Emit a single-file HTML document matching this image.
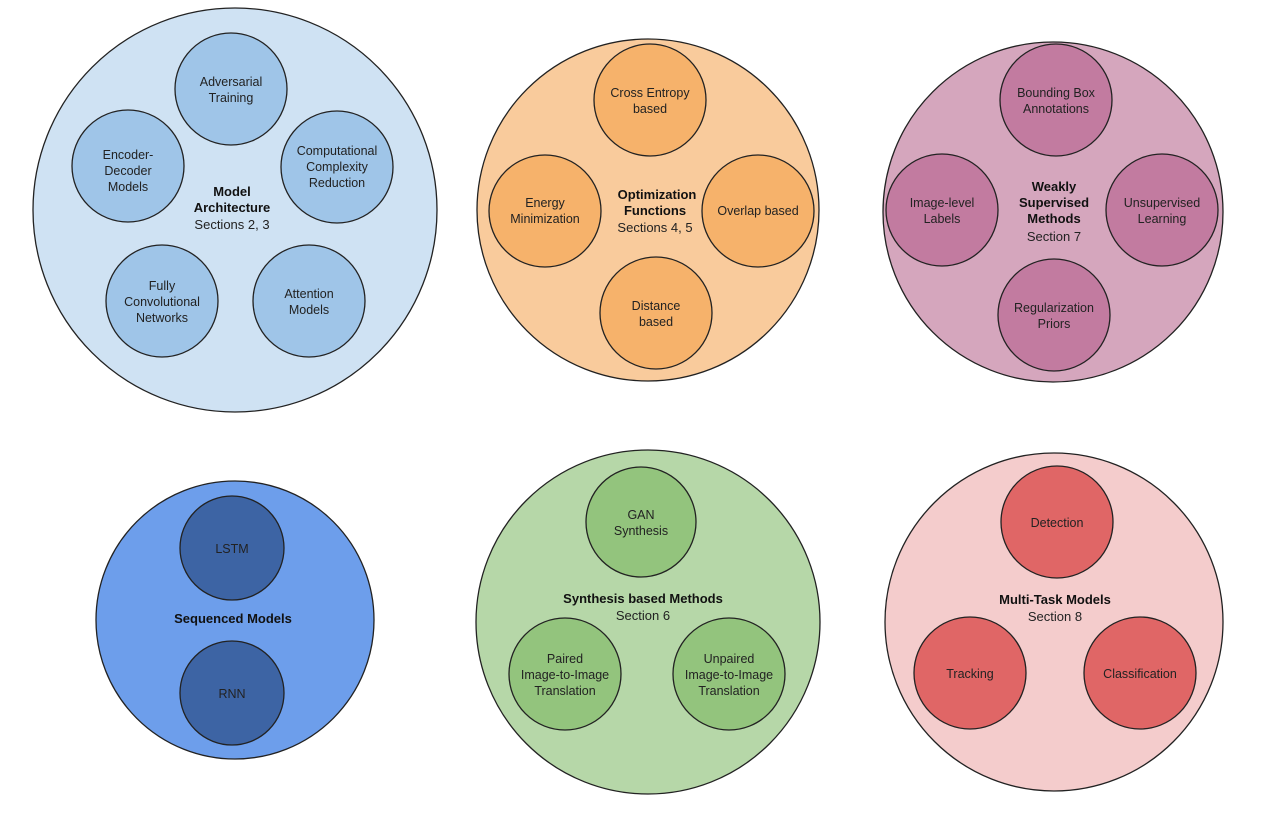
<!DOCTYPE html>
<html><head><meta charset="utf-8"><style>
html,body{margin:0;padding:0;background:#fff;}
svg{display:block;}
text{font-family:"Liberation Sans",Arial,sans-serif;font-size:12.5px;fill:#222;text-anchor:middle;}
.b{font-weight:bold;font-size:13px;fill:#111;}
</style></head><body>
<svg width="1266" height="816" viewBox="0 0 1266 816" xmlns="http://www.w3.org/2000/svg">
<g stroke="#222" stroke-width="1.3">
<circle cx="235" cy="210" r="202" fill="#cfe2f3"/>
<circle cx="648" cy="210" r="171" fill="#f9cb9c"/>
<circle cx="1053" cy="212" r="170" fill="#d5a6bd"/>
<circle cx="235" cy="620" r="139" fill="#6d9eeb"/>
<circle cx="648" cy="622" r="172" fill="#b6d7a8"/>
<circle cx="1054" cy="622" r="169" fill="#f4cccc"/>

<g fill="#9fc5e8">
<circle cx="231" cy="89" r="56"/><circle cx="128" cy="166" r="56"/><circle cx="337" cy="167" r="56"/>
<circle cx="162" cy="301" r="56"/><circle cx="309" cy="301" r="56"/>
</g>
<g fill="#f6b26b">
<circle cx="650" cy="100" r="56"/><circle cx="545" cy="211" r="56"/><circle cx="758" cy="211" r="56"/><circle cx="656" cy="313" r="56"/>
</g>
<g fill="#c27ba0">
<circle cx="1056" cy="100" r="56"/><circle cx="942" cy="210" r="56"/><circle cx="1162" cy="210" r="56"/><circle cx="1054" cy="315" r="56"/>
</g>
<g fill="#3d64a4">
<circle cx="232" cy="548" r="52"/><circle cx="232" cy="693" r="52"/>
</g>
<g fill="#93c47d">
<circle cx="641" cy="522" r="55"/><circle cx="565" cy="674" r="56"/><circle cx="729" cy="674" r="56"/>
</g>
<g fill="#e06666">
<circle cx="1057" cy="522" r="56"/><circle cx="970" cy="673" r="56"/><circle cx="1140" cy="673" r="56"/>
</g>
</g>

<text x="231" y="86">Adversarial</text><text x="231" y="102">Training</text>
<text x="128" y="159">Encoder-</text><text x="128" y="175">Decoder</text><text x="128" y="191">Models</text>
<text x="337" y="155">Computational</text><text x="337" y="171">Complexity</text><text x="337" y="187">Reduction</text>
<text x="162" y="290">Fully</text><text x="162" y="306">Convolutional</text><text x="162" y="322">Networks</text>
<text x="309" y="298">Attention</text><text x="309" y="314">Models</text>
<text class="b" x="232" y="196">Model</text><text class="b" x="232" y="212">Architecture</text><text x="232" y="229" style="font-size:13px">Sections 2, 3</text>

<text x="650" y="97">Cross Entropy</text><text x="650" y="113">based</text>
<text x="545" y="207">Energy</text><text x="545" y="223">Minimization</text>
<text x="758" y="215">Overlap based</text>
<text x="656" y="310">Distance</text><text x="656" y="326">based</text>
<text class="b" x="657" y="199">Optimization</text><text class="b" x="655" y="215">Functions</text><text x="655" y="232" style="font-size:13px">Sections 4, 5</text>

<text x="1056" y="97">Bounding Box</text><text x="1056" y="113">Annotations</text>
<text x="942" y="207">Image-level</text><text x="942" y="223">Labels</text>
<text x="1162" y="207">Unsupervised</text><text x="1162" y="223">Learning</text>
<text x="1054" y="312">Regularization</text><text x="1054" y="328">Priors</text>
<text class="b" x="1054" y="191">Weakly</text><text class="b" x="1054" y="207">Supervised</text><text class="b" x="1054" y="223">Methods</text><text x="1054" y="241" style="font-size:13px">Section 7</text>

<text x="232" y="553">LSTM</text><text x="232" y="698">RNN</text>
<text class="b" x="233" y="623">Sequenced Models</text>

<text x="641" y="519">GAN</text><text x="641" y="535">Synthesis</text>
<text x="565" y="663">Paired</text><text x="565" y="679">Image-to-Image</text><text x="565" y="695">Translation</text>
<text x="729" y="663">Unpaired</text><text x="729" y="679">Image-to-Image</text><text x="729" y="695">Translation</text>
<text class="b" x="643" y="603">Synthesis based Methods</text><text x="643" y="620" style="font-size:13px">Section 6</text>

<text x="1057" y="527">Detection</text>
<text x="970" y="678">Tracking</text>
<text x="1140" y="678">Classification</text>
<text class="b" x="1055" y="604">Multi-Task Models</text><text x="1055" y="621" style="font-size:13px">Section 8</text>
</svg>
</body></html>
